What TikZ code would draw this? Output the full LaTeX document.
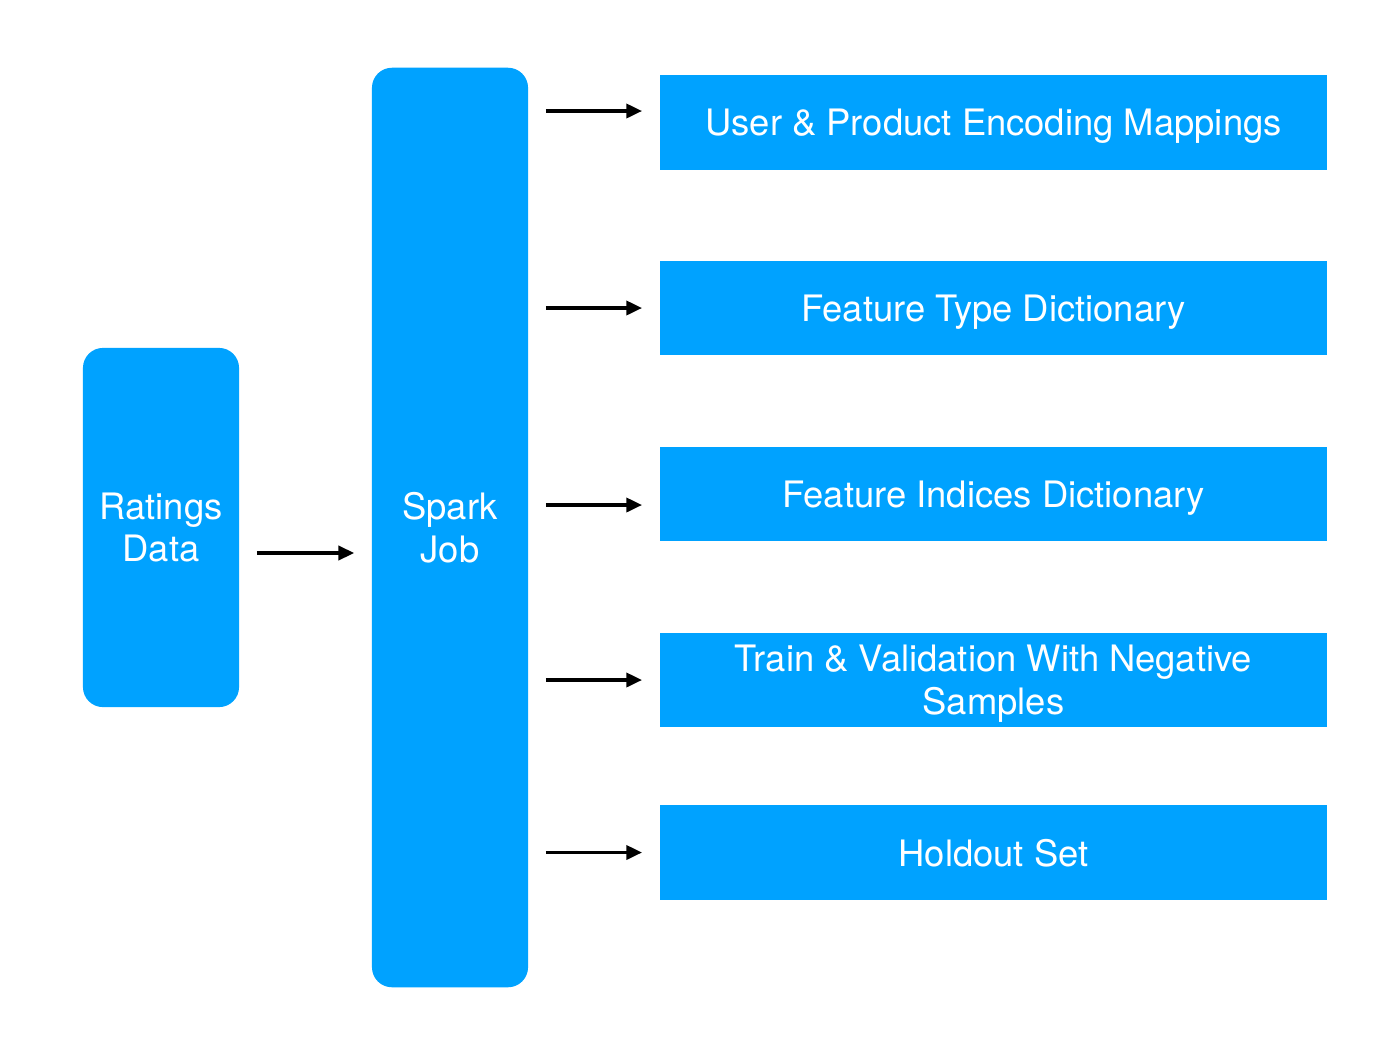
\documentclass[tikz,border=0pt]{standalone}
\usepackage{fontspec}
\setmainfont{TeX Gyre Heros}
\usetikzlibrary{arrows.meta}
\definecolor{BoxClr}{RGB}{0,162,255}

\begin{document}
\begin{tikzpicture}[x=0.01cm,y=-0.01cm]
\tikzset{
  block/.style={fill=BoxClr,draw=none,text=white,align=center,
    font=\fontsize{10.35}{12.2}\selectfont,inner sep=0pt},
  tall/.style={block,rounded corners=0.2cm,minimum width=1.56cm},
  result/.style={block,minimum width=6.67cm,minimum height=0.94cm,text depth=0pt},
  flow/.style={line width=1pt,-{Triangle[length=4.5pt,width=4pt]},
    shorten <=0.17cm,shorten >=0.17cm}
}
\useasboundingbox (0,0) rectangle (1400,1054);

\node[tall,minimum height=3.59cm] (rating) at (161,527.5) {Ratings\\Data};
\node[tall,minimum height=9.19cm] (spark) at (450,527.5) {Spark\\Job};

\node[result] (out1) at (993.5,122.5) {User \& Product Encoding Mappings};
\node[result] (out2) at (993.5,308) {Feature Type Dictionary};
\node[result] (out3) at (993.5,494) {Feature Indices Dictionary};
\node[result] (out4) at (993.5,680) {Train \& Validation With Negative\\Samples};
\node[result] (out5) at (993.5,852.5) {Holdout Set};

\draw[flow] (rating.east |- 0,553) -- (spark.west |- 0,553);

\draw[flow] (spark.east |- 0,111) -- (out1.west |- 0,111);
\draw[flow] (spark.east |- out2.west) -- (out2.west);
\draw[flow] (spark.east |- 0,505) -- (out3.west |- 0,505);
\draw[flow] (spark.east |- out4.west) -- (out4.west);
\draw[flow] (spark.east |- out5.west) -- (out5.west);

\end{tikzpicture}
\end{document}
